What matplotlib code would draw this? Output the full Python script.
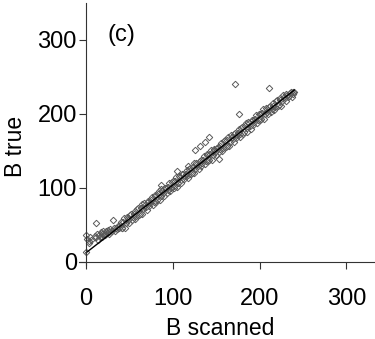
import matplotlib
matplotlib.use("Agg")
import matplotlib.pyplot as plt

# ---- data (B scanned vs. B true) ----
# low-field points (sit above the fitted line)
low_scanned = [0, 0, 1, 3, 4, 5, 6, 10, 11, 12, 13, 14, 15, 16, 17, 18, 19, 20,
               21, 22, 23, 24, 25, 26, 27, 28, 30, 31, 32, 33, 35, 36, 37, 38, 39]
low_true = [13, 36, 31, 28, 25, 33, 29, 35, 52, 33, 38, 30, 36, 34, 40, 37, 33, 42,
            38, 36, 41, 39, 43, 40, 37, 44, 41, 57, 45, 42, 46, 44, 48, 45, 50]

# main band, even scan values
band_a_scanned = [
    40, 42, 44, 46, 48, 50, 52, 54, 56, 58, 60, 62, 64, 66, 68, 70, 72, 74, 76, 78,
    80, 82, 84, 86, 88, 90, 92, 94, 96, 98, 100, 102, 104, 106, 108, 110, 112, 114,
    116, 118, 120, 122, 124, 126, 128, 130, 132, 134, 136, 138, 140, 142, 144, 146,
    148, 150, 152, 154, 156, 158, 160, 162, 164, 166, 168, 170, 172, 174, 176, 178,
    180, 182, 184, 186, 188, 190, 192, 194, 196, 198, 200, 202, 204, 206, 208, 210,
    212, 214, 216, 218, 220, 222, 224, 226, 228, 230, 232, 234, 236, 238, 240,
]
band_a_true = [
    54, 46, 59, 52, 59, 52, 64, 61, 69, 62, 72, 65, 78, 71, 77, 70, 82, 80, 88, 81,
    90, 83, 96, 89, 96, 89, 100, 97, 106, 99, 109, 102, 114, 107, 114, 107, 119, 116,
    124, 117, 127, 120, 133, 126, 132, 125, 137, 134, 143, 136, 145, 138, 151, 144,
    151, 144, 155, 152, 161, 154, 164, 157, 169, 162, 169, 162, 174, 171, 179, 172,
    182, 175, 188, 181, 187, 180, 192, 189, 198, 191, 200, 193, 206, 199, 206, 199,
    210, 207, 215, 209, 218, 212, 221, 217, 223, 217, 226, 224, 229, 227, 229,
]
# main band, odd scan values
band_b_scanned = [
    41, 43, 45, 47, 49, 51, 53, 55, 57, 59, 61, 63, 65, 67, 69, 71, 73, 75, 77, 79,
    81, 83, 85, 87, 89, 91, 93, 95, 97, 99, 101, 103, 105, 107, 109, 111, 113, 115,
    117, 119, 121, 123, 125, 127, 129, 131, 133, 135, 137, 139, 141, 143, 145, 147,
    149, 151, 153, 155, 157, 159, 161, 163, 165, 167, 169, 171, 173, 175, 177, 179,
    181, 183, 185, 187, 189, 191, 193, 195, 197, 199, 201, 203, 205, 207, 209, 211,
    213, 215, 217, 219, 221, 223, 225, 227, 229, 231, 233, 235, 237, 239,
]
band_b_true = [
    45, 54, 46, 61, 56, 63, 57, 64, 58, 71, 63, 73, 65, 79, 74, 81, 75, 83, 77, 89,
    81, 91, 83, 98, 93, 99, 93, 101, 95, 108, 100, 109, 101, 116, 111, 118, 112, 119,
    113, 126, 118, 128, 120, 134, 129, 136, 130, 138, 132, 144, 136, 146, 138, 153,
    148, 154, 148, 156, 150, 163, 155, 164, 156, 171, 166, 173, 167, 174, 168, 181,
    173, 183, 175, 189, 184, 191, 185, 193, 187, 199, 191, 201, 193, 208, 203, 209,
    203, 211, 205, 217, 210, 219, 211, 225, 221, 227, 222, 228, 223, 229,
]

# stray points off the band
outlier_scanned = [86, 105, 117, 126, 131, 137, 142, 153, 172, 176, 211]
outlier_true = [104, 123, 130, 151, 157, 162, 169, 139, 240, 200, 235]

# fitted line end points
fit_x = [0, 240]
fit_y = [12, 232]

ticks = [0, 100, 200, 300]
FONT = "Liberation Sans"
EDGE = "#333333"
MARK = "#5a5a5a"

fig = plt.figure(figsize=(3.75, 3.39), dpi=100)
ax = fig.add_axes([0.2107, 0.217, 0.7893, 0.774])

for xs, ys in [(low_scanned, low_true), (band_a_scanned, band_a_true),
               (band_b_scanned, band_b_true), (outlier_scanned, outlier_true)]:
    ax.plot(xs, ys, linestyle="none", marker="D", ms=3.3,
            mfc="none", mec=MARK, mew=0.7)
ax.plot(fit_x, fit_y, color="black", lw=1.0)

ax.set_xlim(-8, 333)
ax.set_ylim(-5, 349.6)
ax.set_xticks(ticks)
ax.set_yticks(ticks)

for side in ("top", "right"):
    ax.spines[side].set_visible(False)
ax.spines["left"].set_position(("data", 0))
ax.spines["bottom"].set_position(("data", 0))
for side in ("left", "bottom"):
    ax.spines[side].set_color(EDGE)
    ax.spines[side].set_linewidth(0.8)

ax.tick_params(axis="both", direction="out", length=5, width=0.8, color=EDGE)
ax.tick_params(axis="x", pad=14)
ax.tick_params(axis="y", pad=1.5)
for lab in ax.get_xticklabels() + ax.get_yticklabels():
    lab.set_fontfamily(FONT)
    lab.set_fontsize(17)

ax.text(41, 306, "(c)", fontsize=17, family=FONT, ha="center", va="center")
fig.text(0.587, 0.012, "B scanned", fontsize=16.5, family=FONT,
         ha="center", va="baseline")
fig.text(0.041, 1 - 146 / 339, "B true", fontsize=16.5, family=FONT,
         rotation=90, ha="center", va="center")

fig.savefig("out.png", dpi=100)
